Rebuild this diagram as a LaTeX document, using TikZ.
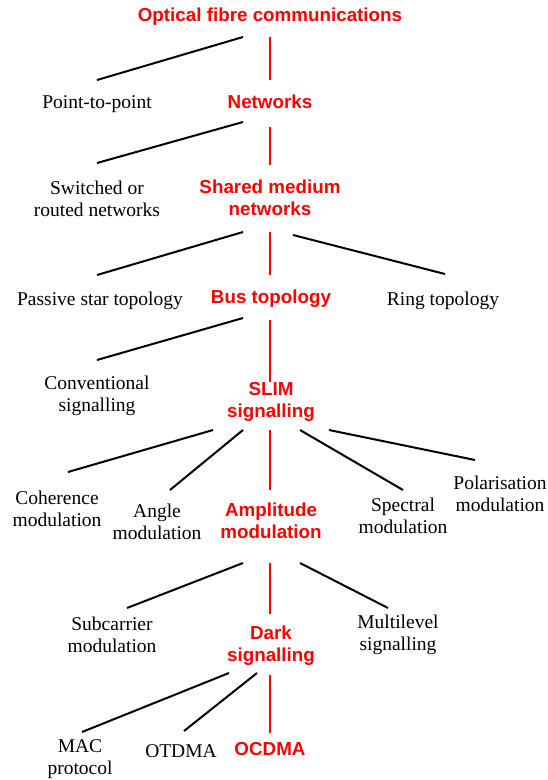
\documentclass[tikz,border=0pt]{standalone}
\usepackage{fontspec}
\setmainfont{Liberation Serif}
\newfontfamily\headfont{Liberation Sans}
\definecolor{hl}{RGB}{255,0,0}

\tikzset{
  leaf/.style={font=\fontsize{19.5}{22.5}\selectfont, align=center, inner sep=0pt, text=black, yshift=-2pt},
  main/.style={font=\headfont\bfseries\fontsize{18.8}{22}\selectfont, align=center, inner sep=0pt, text=hl, yshift=-1pt},
  side/.style={draw=black, line width=2pt},
  spine/.style={draw=hl, line width=1.4pt},
}

\begin{document}
\begin{tikzpicture}[x=1pt, y=-1pt]
  \useasboundingbox (0,0) rectangle (548,780);

  % taxonomy nodes
  \node[main] (ofc)   at (270,16)  {Optical fibre communications};
  \node[leaf] (p2p)   at (97,102)  {Point-to-point};
  \node[main] (net)   at (270,101) {Networks};
  \node[leaf] (swr)   at (97,197)  {Switched or\\routed networks};
  \node[main] (smn)   at (270,197) {Shared medium\\networks};
  \node[leaf] (pst)   at (100,299) {Passive star topology};
  \node[main] (bus)   at (271,298) {Bus topology};
  \node[leaf] (ring)  at (443,299) {Ring topology};
  \node[leaf] (conv)  at (97,394)  {Conventional\\signalling};
  \node[main] (slim)  at (271,401) {SLIM\\signalling};
  \node[leaf] (coh)   at (57,507)  {Coherence\\modulation};
  \node[leaf] (angle) at (157,520) {Angle\\modulation};
  \node[main] (amp)   at (271,520) {Amplitude\\modulation};
  \node[leaf] (spec)  at (403,514) {Spectral\\modulation};
  \node[leaf] (pol)   at (500,492) {Polarisation\\modulation};
  \node[leaf] (sub)   at (112,633) {Subcarrier\\modulation};
  \node[main] (dark)  at (271,645) {Dark\\signalling};
  \node[leaf] (mlv)   at (398,633) {Multilevel\\signalling};
  \node[leaf] (mac)   at (80,757)  {MAC\\protocol};
  \node[leaf] (otdma) at (181,749) {OTDMA};
  \node[main] (ocdma) at (270,748) {OCDMA};

  % connector end points
  \coordinate (ofc-a) at (243,37);  \coordinate (p2p-a) at (97,80);
  \coordinate (ofc-b) at (270,37);  \coordinate (net-b) at (270,80);
  \coordinate (net-a) at (243,122); \coordinate (swr-a) at (97,163);
  \coordinate (net-b2) at (270,127); \coordinate (smn-b) at (270,165);
  \coordinate (smn-a) at (243,232); \coordinate (pst-a) at (97,275);
  \coordinate (smn-b2) at (270,232); \coordinate (bus-b) at (270,275);
  \coordinate (smn-c) at (293,235); \coordinate (ring-c) at (445,274);
  \coordinate (bus-a) at (243,318); \coordinate (conv-a) at (97,360);
  \coordinate (bus-b2) at (270,320); \coordinate (slim-b) at (270,382);
  \coordinate (slim-1) at (213,430); \coordinate (coh-1) at (68,472);
  \coordinate (slim-2) at (243,430); \coordinate (angle-2) at (170,490);
  \coordinate (slim-3) at (270,430); \coordinate (amp-3) at (270,490);
  \coordinate (slim-4) at (300,430); \coordinate (spec-4) at (403,490);
  \coordinate (slim-5) at (329,430); \coordinate (pol-5) at (475,460);
  \coordinate (amp-1) at (243,563); \coordinate (sub-1) at (127,608);
  \coordinate (amp-2) at (270,563); \coordinate (dark-2) at (270,614);
  \coordinate (amp-3b) at (300,563); \coordinate (mlv-3) at (388,608);
  \coordinate (dark-1) at (229,673); \coordinate (mac-1) at (82,732);
  \coordinate (dark-2b) at (257,673); \coordinate (otdma-2) at (184,731);
  \coordinate (dark-3) at (270,675); \coordinate (ocdma-3) at (270,733);

  % connectors
  \draw[side]  (ofc-a) -- (p2p-a);
  \draw[spine] (ofc-b) -- (net-b);
  \draw[side]  (net-a) -- (swr-a);
  \draw[spine] (net-b2) -- (smn-b);
  \draw[side]  (smn-a) -- (pst-a);
  \draw[spine] (smn-b2) -- (bus-b);
  \draw[side]  (smn-c) -- (ring-c);
  \draw[side]  (bus-a) -- (conv-a);
  \draw[spine] (bus-b2) -- (slim-b);
  \draw[side]  (slim-1) -- (coh-1);
  \draw[side]  (slim-2) -- (angle-2);
  \draw[spine] (slim-3) -- (amp-3);
  \draw[side]  (slim-4) -- (spec-4);
  \draw[side]  (slim-5) -- (pol-5);
  \draw[side]  (amp-1) -- (sub-1);
  \draw[spine] (amp-2) -- (dark-2);
  \draw[side]  (amp-3b) -- (mlv-3);
  \draw[side]  (dark-1) -- (mac-1);
  \draw[side]  (dark-2b) -- (otdma-2);
  \draw[spine] (dark-3) -- (ocdma-3);
\end{tikzpicture}
\end{document}
